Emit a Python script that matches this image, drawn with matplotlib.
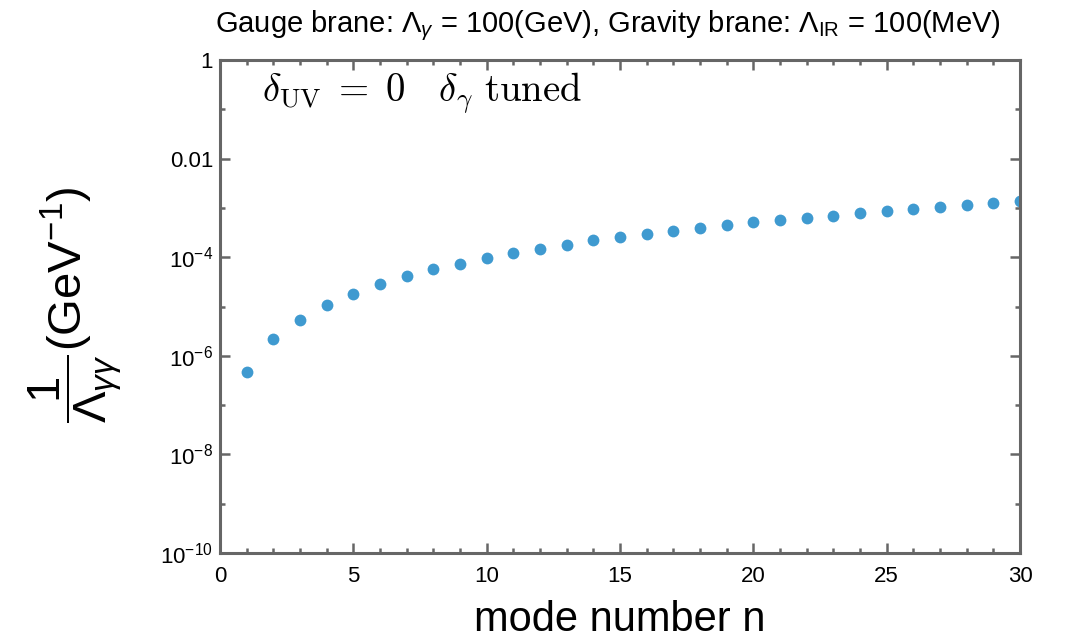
import numpy as np
import matplotlib
matplotlib.use('Agg')
import matplotlib.pyplot as plt

# data
modes = list(range(1, 31))
inv_lambda = [4.8e-7, 2.2e-6, 5.3e-6, 1.07e-5, 1.8e-5, 2.8e-5, 4.1e-5, 5.7e-5, 7.2e-5, 9.5e-5,
              1.2e-4, 1.5e-4, 1.8e-4, 2.2e-4, 2.6e-4, 2.9e-4, 3.4e-4, 3.9e-4, 4.4e-4, 5.1e-4,
              5.7e-4, 6.3e-4, 7.0e-4, 7.8e-4, 8.7e-4, 9.6e-4, 1.05e-3, 1.17e-3, 1.28e-3, 1.38e-3]
xticks = [0, 5, 10, 15, 20, 25, 30]
yticks = [1, 1e-2, 1e-4, 1e-6, 1e-8, 1e-10]
yticklabels = ['1', '0.01', r'$10^{-4}$', r'$10^{-6}$', r'$10^{-8}$', r'$10^{-10}$']
yminor = [1e-1, 1e-3, 1e-5, 1e-7, 1e-9]

title = r'Gauge brane: $\Lambda_\gamma$ = 100(GeV), Gravity brane: $\Lambda_{\rm IR}$ = 100(MeV)'
note = r'$\delta_{\rm UV}\;=\;0\quad\delta_\gamma\ {\rm tuned}$'

plt.rcParams['font.family'] = ['Liberation Sans', 'DejaVu Sans']
plt.rcParams['mathtext.fontset'] = 'custom'
plt.rcParams['mathtext.rm'] = 'Liberation Sans'
plt.rcParams['mathtext.it'] = 'Liberation Sans:italic'
plt.rcParams['mathtext.bf'] = 'Liberation Sans:bold'

spine_col = '#666666'

fig = plt.figure(figsize=(10.76, 6.43), dpi=100)
ax = fig.add_axes([220/1076, 1-553/643, 800/1076, 493/643])

ax.plot(modes, inv_lambda, 'o', color='#3f9ad0', markersize=8.5, markeredgewidth=0)

ax.set_yscale('log')
ax.set_xlim(0, 30)
ax.set_ylim(1e-10, 1)

ax.set_xticks(xticks)
ax.set_xticks(range(0, 31), minor=True)
ax.set_yticks(yticks)
ax.set_yticklabels(yticklabels)
ax.set_yticks(yminor, minor=True)
ax.yaxis.set_minor_formatter(matplotlib.ticker.NullFormatter())

for s in ax.spines.values():
  s.set_color(spine_col)
  s.set_linewidth(2.2)
ax.tick_params(which='both', direction='in', top=True, right=True, color=spine_col, width=1.8)
ax.tick_params(which='major', length=7)
ax.tick_params(which='minor', length=3.5)
ax.tick_params(axis='x', labelsize=16, pad=9)
ax.tick_params(axis='y', labelsize=16, pad=5)

# axis labels placed explicitly
ax.set_xlabel('mode number n', fontsize=30)
ax.xaxis.set_label_coords(0.5, -(631-553)/493)
ax.xaxis.label.set_va('baseline')
ax.set_ylabel(r'$\dfrac{1}{\Lambda_{\gamma\gamma}}$(GeV$^{-1}$)', fontsize=34)
ax.yaxis.set_label_coords(-(220-75)/800, (553-305)/493)
ax.yaxis.label.set_va('center')

fig.text(608/1076, 1-26/643, title, fontsize=21, ha='center', va='center')
ax.text(0.0525, 0.917, note, transform=ax.transAxes, fontsize=28, math_fontfamily='cm', va='baseline')

fig.savefig('out.png', dpi=100)
